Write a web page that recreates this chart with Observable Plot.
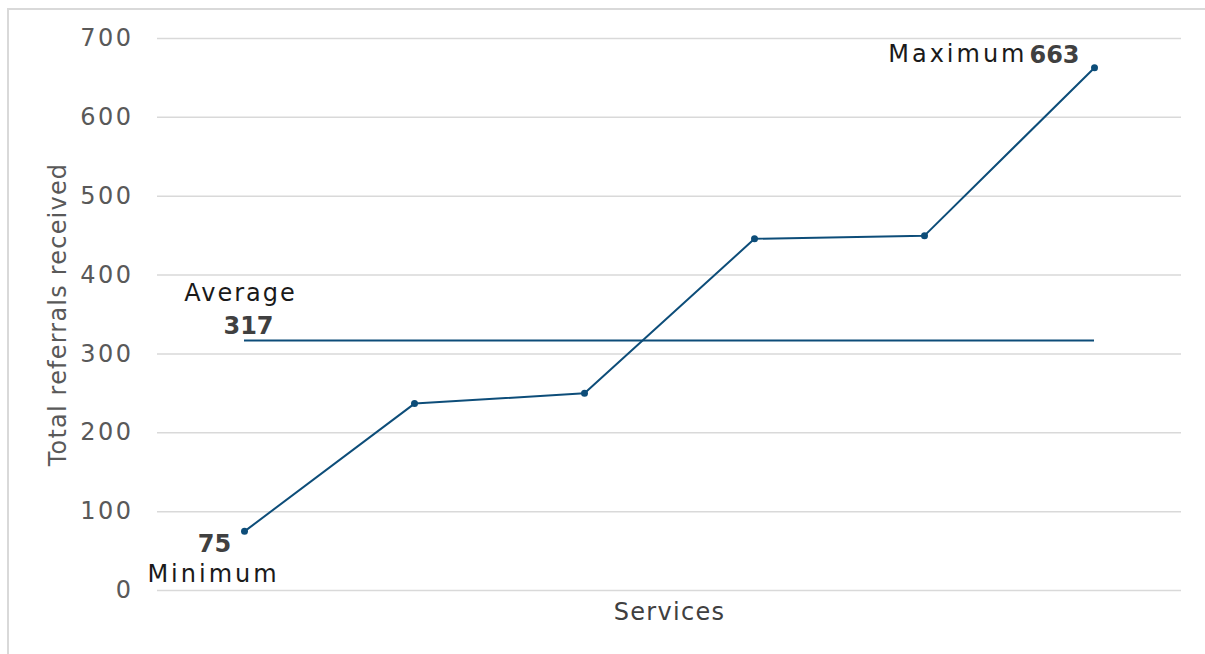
<!DOCTYPE html>
<html>
<head>
<meta charset="utf-8">
<script src="https://cdn.jsdelivr.net/npm/d3@7"></script>
<script src="https://cdn.jsdelivr.net/npm/@observablehq/plot@0.6"></script>
<style>
  html, body { margin: 0; padding: 0; background: #fff; }
  #wrap { position: relative; width: 1205px; height: 654px; overflow: hidden; }
  #frame { position: absolute; left: 7px; top: 8px; width: 1210px; height: 670px; border: 2px solid #d9d9d9; box-sizing: border-box; }
  #chart { position: absolute; left: 0; top: 0; }
  .ls-tick text { letter-spacing: 2.5px; }
  .ls-ylab text { letter-spacing: 1.2px; }
  .ls-xlab text { letter-spacing: 1.3px; }
  .ls-word3 text { letter-spacing: 3px; }
  .ls-word2 text { letter-spacing: 2px; }
</style>
</head>
<body>
<div id="wrap"><div id="frame"></div><div id="chart"></div></div>
<script>
const services = ["Service 1", "Service 2", "Service 3", "Service 4", "Service 5", "Service 6"];
const referrals = [75, 237, 250, 446, 450, 663];
const averageReferrals = 317;
const yTicks = [0, 100, 200, 300, 400, 500, 600, 700];
const yLabel = "Total referrals received";
const xLabel = "Services";

const data = services.map((s, i) => ({service: s, value: referrals[i]}));
const minV = d3.min(referrals), maxV = d3.max(referrals);
const minRow = data.find(d => d.value === minV);
const maxRow = data.find(d => d.value === maxV);
const avgRow = {y: averageReferrals, x1: services[0], x2: services[services.length - 1]};

const blue = "#0d4d79";
const font = "DejaVu Sans";

const chart = Plot.plot({
  width: 1205,
  height: 654,
  marginLeft: 157,
  marginRight: 24,
  marginTop: 38,
  marginBottom: 64,
  style: {fontFamily: font, fontSize: "24px", background: "transparent", overflow: "visible"},
  x: {type: "point", domain: services, padding: 0.5, axis: null},
  y: {domain: [0, 700], axis: null},
  marks: [
    Plot.gridY(yTicks, {stroke: "#d9d9d9", strokeOpacity: 1, strokeWidth: 1.5}),
    Plot.axisY(yTicks, {tickSize: 0, tickPadding: 24, label: null, fill: "#595959", fontSize: 24, className: "ls-tick"}),
    Plot.text([yLabel], {frameAnchor: "left", textAnchor: "middle", lineAnchor: "middle", rotate: -90, dx: -99, fill: "#595959", fontSize: 24, className: "ls-ylab"}),
    Plot.text([xLabel], {frameAnchor: "bottom", textAnchor: "middle", lineAnchor: "middle", dy: 22, fill: "#404040", fontSize: 24, className: "ls-xlab"}),
    Plot.ruleY([avgRow], {y: "y", x1: "x1", x2: "x2", stroke: blue, strokeWidth: 2}),
    Plot.line(data, {x: "service", y: "value", stroke: blue, strokeWidth: 2}),
    Plot.dot(data, {x: "service", y: "value", r: 3.5, fill: blue, stroke: "none"}),
    // Minimum
    Plot.text([minRow], {x: "service", y: "value", text: d => String(d.value), dx: -30, dy: 13, fontWeight: "bold", fill: "#404040", fontSize: 24}),
    Plot.text([minRow], {x: "service", y: "value", text: () => "Minimum", dx: -31, dy: 43, fill: "#1a1a1a", fontSize: 24, className: "ls-word3"}),
    // Maximum
    Plot.text([maxRow], {x: "service", y: "value", text: d => String(d.value), dx: -40, dy: -12, fontWeight: "bold", fill: "#404040", fontSize: 24}),
    Plot.text([maxRow], {x: "service", y: "value", text: () => "Maximum", textAnchor: "end", dx: -67, dy: -13, fill: "#1a1a1a", fontSize: 24, className: "ls-word3"}),
    // Average
    Plot.text([avgRow], {x: "x1", y: "y", text: d => String(d.y), dx: 4, dy: -14, fontWeight: "bold", fill: "#404040", fontSize: 24}),
    Plot.text([avgRow], {x: "x1", y: "y", text: () => "Average", dx: -4, dy: -47, fill: "#1a1a1a", fontSize: 24, className: "ls-word2"})
  ]
});
document.getElementById("chart").appendChild(chart);
</script>
</body>
</html>
